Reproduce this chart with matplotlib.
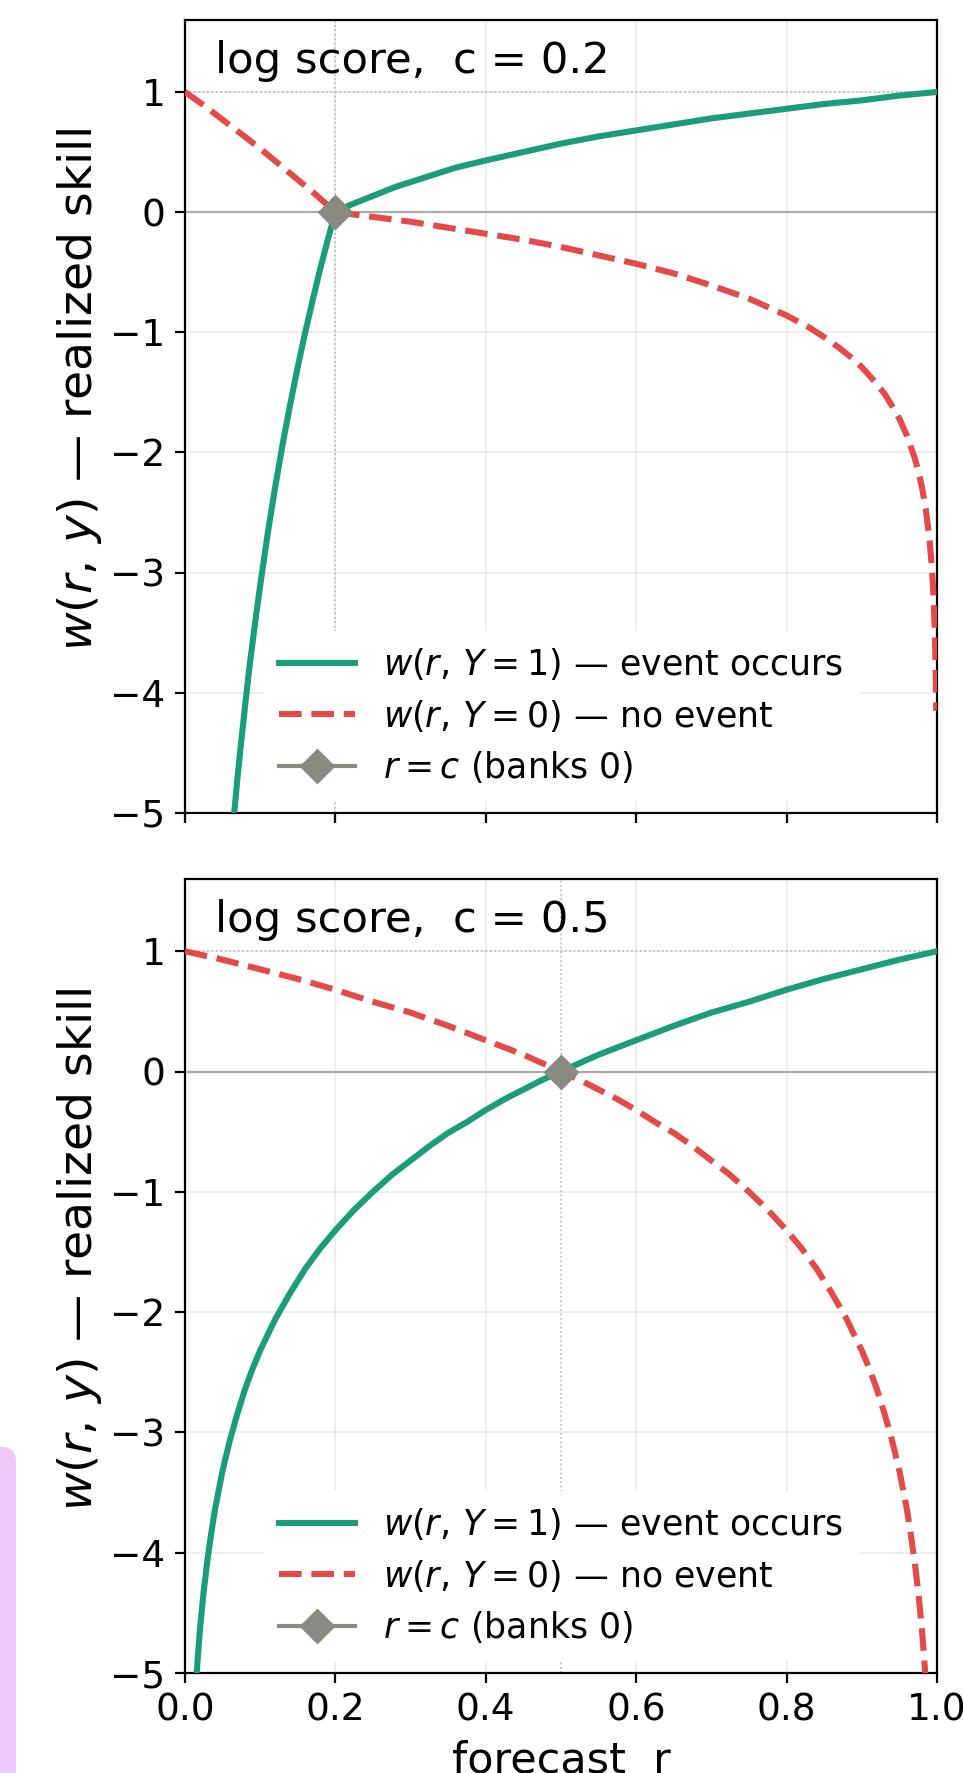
import matplotlib
matplotlib.use("Agg")
import matplotlib.pyplot as plt
from matplotlib.patches import FancyBboxPatch
from matplotlib.transforms import IdentityTransform

# thresholds for the two panels
c_values = [0.2, 0.5]

# panel c = 0.2, event occurs (Y = 1)
r1_a = [0.060, 0.065, 0.070, 0.075, 0.080, 0.085, 0.090, 0.095, 0.10, 0.11, 0.12, 0.13,
        0.14, 0.15, 0.16, 0.17, 0.18, 0.19, 0.20, 0.21, 0.22, 0.24, 0.26, 0.28, 0.30,
        0.33, 0.36, 0.40, 0.45, 0.50, 0.55, 0.60, 0.65, 0.70, 0.75, 0.80, 0.85, 0.90,
        0.95, 1.00]
w1_a = [-5.40, -5.04, -4.70, -4.40, -4.11, -3.83, -3.58, -3.34, -3.11, -2.68, -2.29, -1.93,
        -1.60, -1.29, -1.00, -0.73, -0.47, -0.23, 0.00, 0.03, 0.06, 0.11, 0.16, 0.21, 0.25,
        0.31, 0.37, 0.43, 0.50, 0.57, 0.63, 0.68, 0.73, 0.78, 0.82, 0.86, 0.90, 0.93,
        0.97, 1.00]
# panel c = 0.2, no event (Y = 0)
r0_a = [0.000, 0.025, 0.050, 0.075, 0.100, 0.125, 0.150, 0.175, 0.20, 0.25, 0.30, 0.35,
        0.40, 0.45, 0.50, 0.55, 0.60, 0.65, 0.70, 0.75, 0.80, 0.83, 0.85, 0.87, 0.89,
        0.90, 0.91, 0.92, 0.93, 0.94, 0.95, 0.96, 0.97, 0.975, 0.98, 0.985, 0.99, 0.993,
        0.995, 0.997, 0.998, 0.999]
w0_a = [1.00, 0.89, 0.77, 0.65, 0.53, 0.40, 0.27, 0.14, 0.00, -0.04, -0.08, -0.13,
        -0.18, -0.23, -0.29, -0.36, -0.43, -0.51, -0.61, -0.72, -0.86, -0.96, -1.04, -1.13, -1.23,
        -1.29, -1.36, -1.43, -1.51, -1.61, -1.72, -1.86, -2.04, -2.15, -2.29, -2.47, -2.72, -2.94,
        -3.15, -3.47, -3.72, -4.15]

# panel c = 0.5, event occurs (Y = 1)
r1_b = [0.010, 0.0125, 0.015, 0.0175, 0.020, 0.025, 0.030, 0.035, 0.040, 0.050, 0.060,
        0.070, 0.080, 0.090, 0.10, 0.12, 0.14, 0.16, 0.18, 0.20, 0.225, 0.25, 0.275, 0.30,
        0.325, 0.35, 0.375, 0.40, 0.425, 0.45, 0.475, 0.50, 0.55, 0.60, 0.65, 0.70, 0.75,
        0.80, 0.85, 0.90, 0.95, 1.00]
w1_b = [-5.64, -5.32, -5.06, -4.84, -4.64, -4.32, -4.06, -3.84, -3.64, -3.32, -3.06,
        -2.84, -2.64, -2.47, -2.32, -2.06, -1.84, -1.64, -1.47, -1.32, -1.15, -1.00, -0.86, -0.74,
        -0.62, -0.51, -0.42, -0.32, -0.23, -0.15, -0.07, 0.00, 0.14, 0.26, 0.38, 0.49, 0.58,
        0.68, 0.77, 0.85, 0.93, 1.00]
# panel c = 0.5, no event (Y = 0)
r0_b = [0.00, 0.05, 0.10, 0.15, 0.20, 0.25, 0.30, 0.35, 0.40, 0.45, 0.50, 0.525, 0.55,
        0.575, 0.60, 0.625, 0.65, 0.675, 0.70, 0.725, 0.75, 0.775, 0.80, 0.82, 0.84, 0.86,
        0.88, 0.90, 0.91, 0.92, 0.93, 0.94, 0.95, 0.96, 0.965, 0.97, 0.975, 0.98, 0.9825,
        0.985, 0.9875, 0.99]
w0_b = [1.00, 0.93, 0.85, 0.77, 0.68, 0.58, 0.49, 0.38, 0.26, 0.14, 0.00, -0.07, -0.15,
        -0.23, -0.32, -0.42, -0.51, -0.62, -0.74, -0.86, -1.00, -1.15, -1.32, -1.47, -1.64, -1.84,
        -2.06, -2.32, -2.47, -2.64, -2.84, -3.06, -3.32, -3.64, -3.84, -4.06, -4.32, -4.64, -4.84,
        -5.06, -5.32, -5.64]

panels = [(r1_a, w1_a, r0_a, w0_a), (r1_b, w1_b, r0_b, w0_b)]

green = "#1b9e77"
red = "#e34a4a"
grey = "#8a8a82"

fig = plt.figure(figsize=(4.815, 8.865), dpi=200)
ax_rects = [[0.192, 0.5415, 0.781, 0.4473], [0.192, 0.0564, 0.781, 0.4478]]

for i, (c, (r1, w1, r0, w0)) in enumerate(zip(c_values, panels)):
    ax = fig.add_axes(ax_rects[i])
    ax.grid(True, color="#b0b0b0", alpha=0.25, lw=0.6)
    ax.axhline(0, color="#aaaaaa", lw=0.8, zorder=1)
    ax.axhline(1, color="#bbbbbb", lw=0.6, ls=":", zorder=1)
    ax.axvline(c, color="#bbbbbb", lw=0.6, ls=":", zorder=1)
    ax.plot(r1, w1, color=green, lw=2.2, label=r"$w(r,\, Y=1)$ — event occurs", zorder=3)
    ax.plot(r0, w0, color=red, lw=2.2, ls="--", label=r"$w(r,\, Y=0)$ — no event", zorder=3)
    ax.plot([c], [0], color=grey, marker="D", markersize=8, lw=1.5,
            label=r"$r = c$ (banks 0)", zorder=4)
    ax.set_xlim(0, 1)
    ax.set_ylim(-5, 1.6)
    ax.set_xticks([0, 0.2, 0.4, 0.6, 0.8, 1.0])
    ax.set_yticks([-5, -4, -3, -2, -1, 0, 1])
    ax.tick_params(labelsize=13.5)
    ax.text(0.04, 0.975, f"log score,  c = {c}", transform=ax.transAxes,
            fontsize=15.6, va="top", ha="left")
    ax.set_ylabel(r"$w(r,\, y)$ — realized skill", fontsize=17)
    ax.yaxis.set_label_coords(-0.107, 0.534)
    ax.legend(loc="lower center", fontsize=12.5, frameon=True, edgecolor="white",
              framealpha=1.0, handlelength=2.2, labelspacing=0.45, borderaxespad=0.4)
    if i == 0:
        ax.tick_params(labelbottom=False)
    else:
        ax.set_xlabel("forecast  r", fontsize=15.5)

# stray lavender box at the lower-left edge
fig.patches.append(FancyBboxPatch((-30, -30), 46, 356, boxstyle="round,pad=0,rounding_size=15",
                                  transform=IdentityTransform(), facecolor="#eec9fb",
                                  edgecolor="none", figure=fig))

fig.savefig("out.png", dpi=200)
